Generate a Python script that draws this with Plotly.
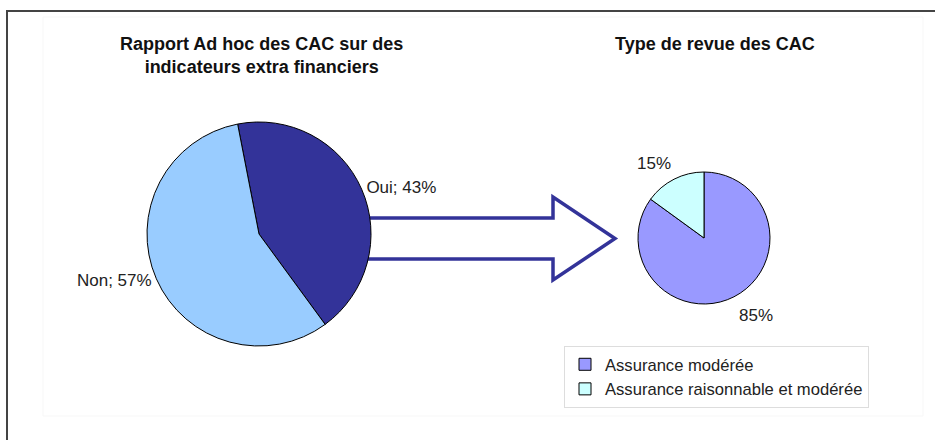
import plotly.graph_objects as go

W, H = 935, 440

# données
labels_rapport = ["Oui", "Non"]
values_rapport = [43, 57]
colors_rapport = ["#333399", "#99CCFF"]

labels_revue = ["Assurance modérée", "Assurance raisonnable et modérée"]
values_revue = [85, 15]
colors_revue = ["#9999FF", "#CCFFFF"]

title_rapport = "Rapport Ad hoc des CAC sur des<br>indicateurs extra financiers"
title_revue = "Type de revue des CAC"

FONT = "Liberation Sans, Arial, sans-serif"


def px_x(v):
    return v / W


def px_y(v):
    return 1 - v / H


fig = go.Figure()

fig.add_trace(go.Pie(
    labels=labels_rapport, values=values_rapport, sort=False,
    direction="clockwise", rotation=-11,
    marker=dict(colors=colors_rapport, line=dict(color="#000000", width=1)),
    texttemplate="%{label}; %{value}%", textposition="outside",
    textfont=dict(size=17, color="#222222"),
    domain=dict(x=[px_x(147), px_x(371)], y=[px_y(346), px_y(122)]),
    showlegend=False, hoverinfo="skip",
))

fig.add_trace(go.Pie(
    labels=labels_revue, values=values_revue, sort=False,
    direction="clockwise", rotation=0,
    marker=dict(colors=colors_revue, line=dict(color="#000000", width=1)),
    textinfo="none",
    domain=dict(x=[px_x(638), px_x(770)], y=[px_y(304), px_y(172)]),
    hoverinfo="skip",
))

# étiquettes du camembert de droite
label_pos_revue = [(756, 315), (654, 163)]
for v, (lx, ly) in zip(values_revue, label_pos_revue):
    fig.add_annotation(text=f"{v}%", x=px_x(lx), y=px_y(ly), xref="paper", yref="paper",
                       xanchor="center", yanchor="middle", showarrow=False,
                       font=dict(size=17, color="#222222", family=FONT))

# flèche entre les deux camemberts
pts = [(360, 218), (553, 218), (553, 197), (615, 238.5), (553, 280), (553, 259), (360, 259)]
path = "M " + " L ".join(f"{px_x(x)},{px_y(y)}" for x, y in pts) + " Z"
fig.add_shape(type="path", path=path, xref="paper", yref="paper",
              line=dict(color="#333399", width=3.5), fillcolor="white", layer="below")

# cadres
fig.add_shape(type="rect", xref="paper", yref="paper",
              x0=px_x(43), y0=px_y(17), x1=px_x(923), y1=px_y(416),
              line=dict(color="#f7f7f7", width=1), layer="below")
fig.add_shape(type="rect", xref="paper", yref="paper",
              x0=px_x(7), y0=px_y(11), x1=1.05, y1=-0.05,
              line=dict(color="#444444", width=2))

fig.add_annotation(text=f"<b>{title_rapport}</b>", x=px_x(261), y=px_y(56),
                   xref="paper", yref="paper", xanchor="center", yanchor="middle",
                   showarrow=False, font=dict(size=18, color="#111111", family=FONT))
fig.add_annotation(text=f"<b>{title_revue}</b>", x=px_x(715), y=px_y(44),
                   xref="paper", yref="paper", xanchor="center", yanchor="middle",
                   showarrow=False, font=dict(size=18, color="#111111", family=FONT))

fig.update_layout(
    width=W, height=H,
    margin=dict(l=0, r=0, t=0, b=0),
    paper_bgcolor="white", plot_bgcolor="white",
    font=dict(family=FONT, size=17, color="#222222"),
    legend=dict(x=px_x(564), y=px_y(346), xanchor="left", yanchor="top",
                bordercolor="#dddddd", borderwidth=1,
                font=dict(size=16.6, color="#222222")),
)

fig.write_html("out.html", config={"displayModeBar": False},
               post_script="document.body.style.margin = '0';")
